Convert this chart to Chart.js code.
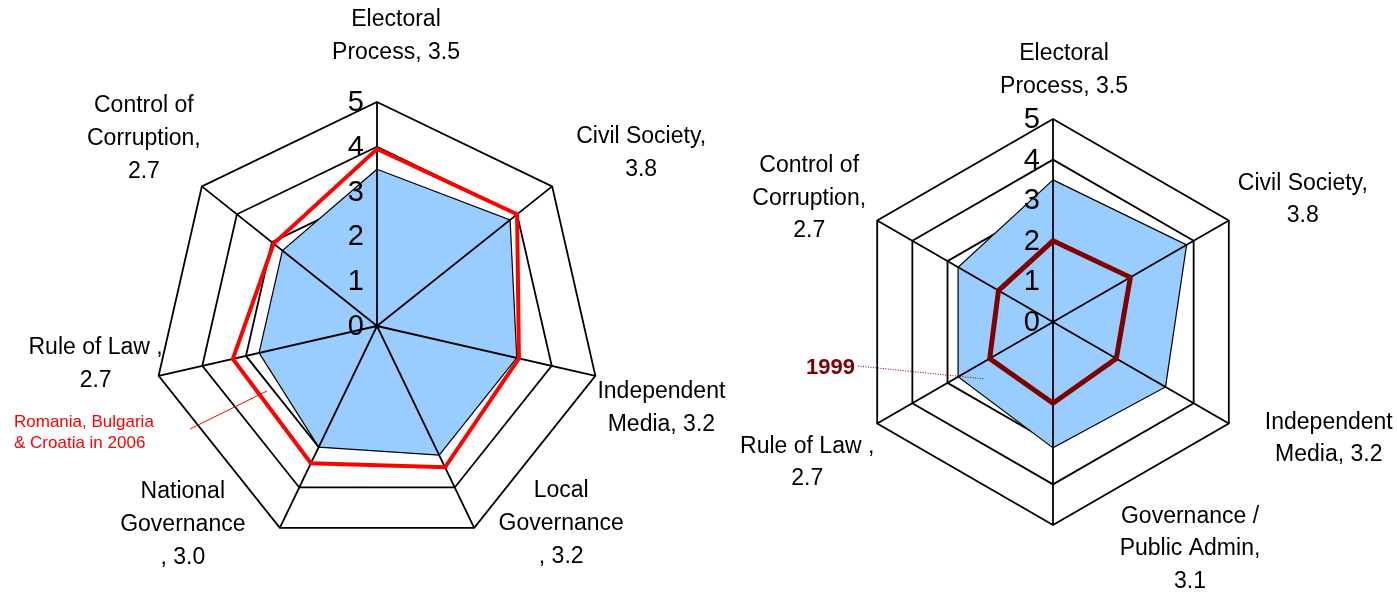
<!DOCTYPE html>
<html lang="en">
<head>
<meta charset="UTF-8">
<title>Nations in Transit radar charts</title>
<style>
  body { margin: 0; background: #fff; }
  #wrap { position: relative; width: 1397px; height: 593px; }
  canvas { position: absolute; top: 0; }
  #leftChart { left: 0; }
  #rightChart { left: 700px; }
</style>
</head>
<body>
<div id="wrap">
  <canvas id="leftChart" width="780" height="593"></canvas>
  <canvas id="rightChart" width="697" height="593"></canvas>
</div>
<script src="https://cdn.jsdelivr.net/npm/chart.js"></script>
<script>
// left chart: seven categories, 2006 scores
const leftCategories = [
  ['Electoral', 'Process, 3.5'],
  ['Civil Society,', '3.8'],
  ['Independent', 'Media, 3.2'],
  ['Local', 'Governance', ', 3.2'],
  ['National', 'Governance', ', 3.0'],
  ['Rule of Law ,', '2.7'],
  ['Control of', 'Corruption,', '2.7']
];
const leftScores = [3.5, 3.8, 3.2, 3.2, 3.0, 2.7, 2.7];
const leftRegion2006 = [3.95, 4.0, 3.25, 3.5, 3.4, 3.3, 2.95];

// right chart: six categories, with 1999 line
const rightCategories = [
  ['Electoral', 'Process, 3.5'],
  ['Civil Society,', '3.8'],
  ['Independent', 'Media, 3.2'],
  ['Governance /', 'Public Admin,', '3.1'],
  ['Rule of Law ,', '2.7'],
  ['Control of', 'Corruption,', '2.7']
];
const rightScores = [3.5, 3.8, 3.2, 3.1, 2.7, 2.7];
const right1999 = [2.0, 2.2, 1.8, 2.0, 1.8, 1.55];

const FONT = '"Liberation Sans", Arial, sans-serif';

// draws spokes over the blue fill, tick numbers and the category labels
function makeExtras(cfg) {
  return {
    id: 'radarExtras',
    afterDatasetDraw(chart, args) {
      if (args.index !== cfg.spokesAfter) return;
      const r = chart.scales.r, ctx = chart.ctx;
      ctx.save();
      ctx.strokeStyle = '#000';
      ctx.lineWidth = 1.8;
      ctx.beginPath();
      for (let i = 0; i < chart.data.labels.length; i++) {
        const p = r.getPointPosition(i, r.drawingArea);
        ctx.moveTo(r.xCenter, r.yCenter);
        ctx.lineTo(p.x, p.y);
      }
      ctx.stroke();
      ctx.restore();
    },
    afterDraw(chart) {
      const r = chart.scales.r, ctx = chart.ctx;
      ctx.save();
      ctx.fillStyle = '#000';
      ctx.font = '29px ' + FONT;
      ctx.textAlign = 'right';
      ctx.textBaseline = 'middle';
      r.ticks.forEach(t => {
        const p = r.getPointPositionForValue(0, t.value);
        ctx.fillText(String(t.value), p.x - 13, p.y + 1);
      });

      ctx.font = '23px ' + FONT;
      ctx.textAlign = 'center';
      chart.data.labels.forEach((lines, i) => {
        const p = r.getPointPosition(i, r.drawingArea);
        const off = cfg.labelOffsets[i];
        const top = p.y + off[1] - (lines.length - 1) * cfg.lineHeight / 2;
        lines.forEach((s, k) => ctx.fillText(s, p.x + off[0], top + k * cfg.lineHeight + 1));
      });

      const n = cfg.note;
      ctx.fillStyle = n.color;
      ctx.strokeStyle = n.color;
      ctx.font = n.font;
      ctx.textAlign = 'left';
      n.lines.forEach((s, k) => ctx.fillText(s, n.x, n.y + k * n.lineHeight));
      ctx.lineWidth = 1;
      ctx.setLineDash(n.dash);
      ctx.beginPath();
      ctx.moveTo(n.from[0], n.from[1]);
      ctx.lineTo(n.to[0], n.to[1]);
      ctx.stroke();
      ctx.restore();
    }
  };
}

function scaleOptions() {
  return {
    r: {
      min: 0,
      max: 5,
      ticks: { display: false, stepSize: 1 },
      pointLabels: { display: false },
      angleLines: { display: false },
      grid: { color: '#000', lineWidth: 1.8 }
    }
  };
}

new Chart(document.getElementById('leftChart'), {
  type: 'radar',
  data: {
    labels: leftCategories,
    datasets: [{
      label: 'Romania, Bulgaria & Croatia in 2006',
      data: leftRegion2006,
      borderColor: '#ff0000',
      borderWidth: 4,
      fill: false,
      pointRadius: 0,
      order: 0
    }, {
      label: 'Scores',
      data: leftScores,
      borderColor: '#000',
      borderWidth: 1.2,
      backgroundColor: '#99ccff',
      fill: true,
      pointRadius: 0,
      order: 1
    }]
  },
  options: {
    responsive: false,
    animation: false,
    layout: { padding: { left: 153, top: 102, right: 179, bottom: 43 } },
    plugins: { legend: { display: false }, tooltip: { enabled: false } },
    scales: scaleOptions()
  },
  plugins: [makeExtras({
    spokesAfter: 1,
    lineHeight: 33,
    labelOffsets: [[19, -67], [89, -34], [66, 31], [87, -5], [-97, -4], [-63, -13], [-58, -49]],
    note: {
      lines: ['Romania, Bulgaria', '& Croatia in 2006'],
      color: '#ff0000',
      font: '17px ' + FONT,
      x: 14, y: 422, lineHeight: 21,
      dash: [],
      from: [190, 429], to: [267, 391]
    }
  })]
});

new Chart(document.getElementById('rightChart'), {
  type: 'radar',
  data: {
    labels: rightCategories,
    datasets: [{
      label: '1999',
      data: right1999,
      borderColor: '#800000',
      borderWidth: 5,
      fill: false,
      pointRadius: 0,
      order: 0
    }, {
      label: 'Scores',
      data: rightScores,
      borderColor: '#000',
      borderWidth: 1.2,
      backgroundColor: '#99ccff',
      fill: true,
      pointRadius: 0,
      order: 1
    }]
  },
  options: {
    responsive: false,
    animation: false,
    layout: { padding: { left: 150, top: 119, right: 141, bottom: 68 } },
    plugins: { legend: { display: false }, tooltip: { enabled: false } },
    scales: scaleOptions()
  },
  plugins: [makeExtras({
    spokesAfter: 1,
    lineHeight: 32.5,
    labelOffsets: [[11, -50], [74, -22], [100, 14], [137, 23], [-70, 38], [-68, -23]],
    note: {
      lines: ['1999'],
      color: '#800000',
      font: 'bold 22px ' + FONT,
      x: 106, y: 368, lineHeight: 22,
      dash: [1, 1.5],
      from: [158, 366], to: [285, 379]
    }
  })]
});
</script>
</body>
</html>
